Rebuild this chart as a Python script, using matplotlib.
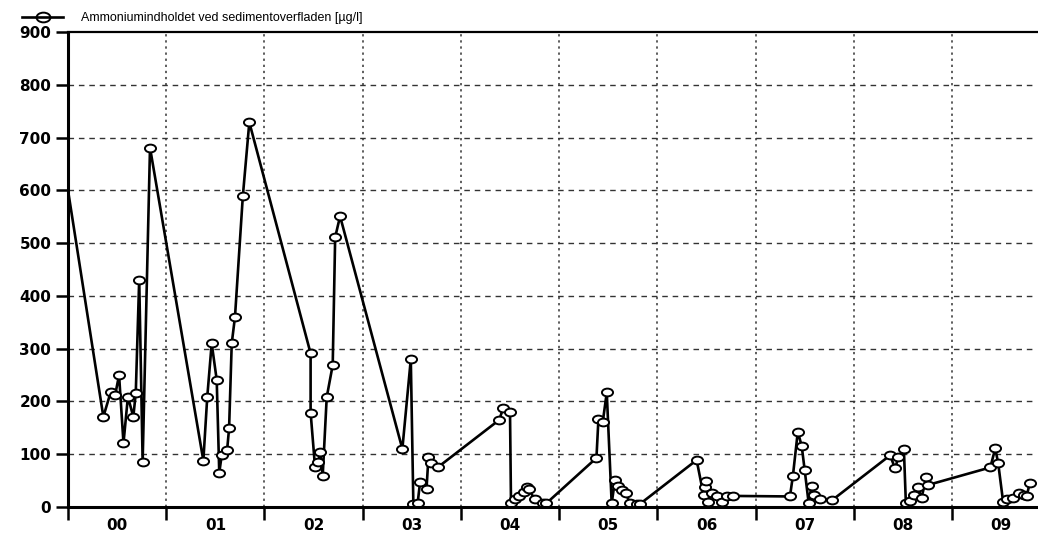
import matplotlib
matplotlib.use("Agg")
import matplotlib.pyplot as plt
from matplotlib.path import Path
from matplotlib.transforms import Affine2D
import numpy as np

# time in years since 2000.0, ammonium in ug/l
years = [-0.05,
         0.36, 0.435, 0.48, 0.52, 0.565, 0.61, 0.665, 0.69, 0.725, 0.76, 0.835,
         1.378, 1.418, 1.463, 1.514, 1.54, 1.565, 1.62, 1.64, 1.667, 1.70, 1.78, 1.846,
         2.47, 2.47, 2.515, 2.55, 2.566, 2.593, 2.634, 2.695, 2.72, 2.77,
         3.404, 3.49, 3.516, 3.56, 3.585, 3.65, 3.67, 3.70, 3.77,
         4.39, 4.43, 4.50, 4.51, 4.55, 4.59, 4.64, 4.67, 4.69, 4.75, 4.84, 4.87,
         5.38, 5.40, 5.445, 5.485, 5.535, 5.57, 5.595, 5.64, 5.68, 5.72, 5.79, 5.825,
         6.40, 6.47, 6.49, 6.50, 6.52, 6.56, 6.61, 6.655, 6.71, 6.77,
         7.35, 7.38, 7.43, 7.47, 7.50, 7.54, 7.57, 7.59, 7.66, 7.78,
         8.37, 8.42, 8.455, 8.51, 8.53, 8.57, 8.61, 8.65, 8.69, 8.74, 8.76,
         9.39, 9.44, 9.47, 9.52, 9.56, 9.62, 9.68, 9.73, 9.76, 9.79]
ammonium = [660,
            171, 218, 212, 250, 121, 209, 171, 216, 431, 86, 681,
            88, 209, 310, 241, 65, 98, 108, 149, 310, 360, 589, 729,
            291, 179, 76, 85, 105, 59, 208, 269, 511, 551,
            110, 280, 6, 8, 48, 35, 95, 83, 76,
            165, 187, 180, 8, 15, 20, 29, 38, 34, 15, 7, 7,
            93, 166, 162, 217, 7, 52, 39, 32, 26, 7, 6, 6,
            89, 23, 38, 49, 10, 26, 20, 10, 20, 21,
            20, 59, 143, 115, 70, 8, 40, 23, 16, 13,
            98, 73, 95, 109, 8, 12, 23, 37, 18, 57, 42,
            75, 111, 83, 10, 15, 18, 26, 23, 20, 45]

year_labels = ["00", "01", "02", "03", "04", "05", "06", "07", "08", "09"]
legend_label = "Ammoniumindholdet ved sedimentoverfladen [µg/l]"

plt.rcParams['font.family'] = ['Liberation Sans', 'DejaVu Sans']

# flat open ellipse like the original plotting program
ellipse = Path.unit_circle().transformed(Affine2D().scale(1.0, 0.7))

fig = plt.figure(figsize=(10.38, 5.4), dpi=100)
ax = fig.add_axes([0.0655, 0.0611, 0.934, 0.8796])

ax.plot(years, ammonium, color='black', linewidth=1.9, marker=ellipse,
        markersize=8, markerfacecolor='white', markeredgecolor='black',
        markeredgewidth=1.4, label=legend_label)

ax.set_xlim(0, 9.87)
ax.set_ylim(0, 900)

tick_font = dict(family='DejaVu Sans', fontweight='bold', fontsize=11)

# year boundaries as major ticks, labels in the middle of each year
ax.set_xticks(np.arange(0, 10))
ax.set_xticklabels([])
ax.set_xticks(np.arange(10) + 0.5, minor=True)
ax.set_xticklabels(year_labels, minor=True, **tick_font)
ax.tick_params(axis='x', which='major', direction='out', length=9, width=1.8)
ax.tick_params(axis='x', which='minor', length=0, pad=8)

ax.set_yticks(np.arange(0, 901, 100))
ax.set_yticklabels([str(v) for v in range(0, 901, 100)], **tick_font)
ax.tick_params(axis='y', direction='out', length=9, width=1.8, pad=3)

for x in range(1, 10):
    ax.axvline(x, color='#333333', linestyle=(0, (1.5, 2.5)), linewidth=1.1, zorder=0)
for y in range(100, 900, 100):
    ax.axhline(y, color='#333333', linestyle=(0, (4, 3.5)), linewidth=1.0, zorder=0)

ax.spines['left'].set_linewidth(2.2)
ax.spines['bottom'].set_linewidth(2.2)
ax.spines['top'].set_linewidth(1.6)
ax.spines['right'].set_visible(False)

leg = ax.legend(loc='lower left', bbox_to_anchor=(-0.05, 1.011), frameon=False,
                handlelength=3.3, fontsize=9, borderpad=0, borderaxespad=0.2,
                handletextpad=1.4)
leg.legend_handles[0].set_markerfacecolor('none')
leg.legend_handles[0].set_markersize(10)

fig.savefig("out.png", dpi=100)
